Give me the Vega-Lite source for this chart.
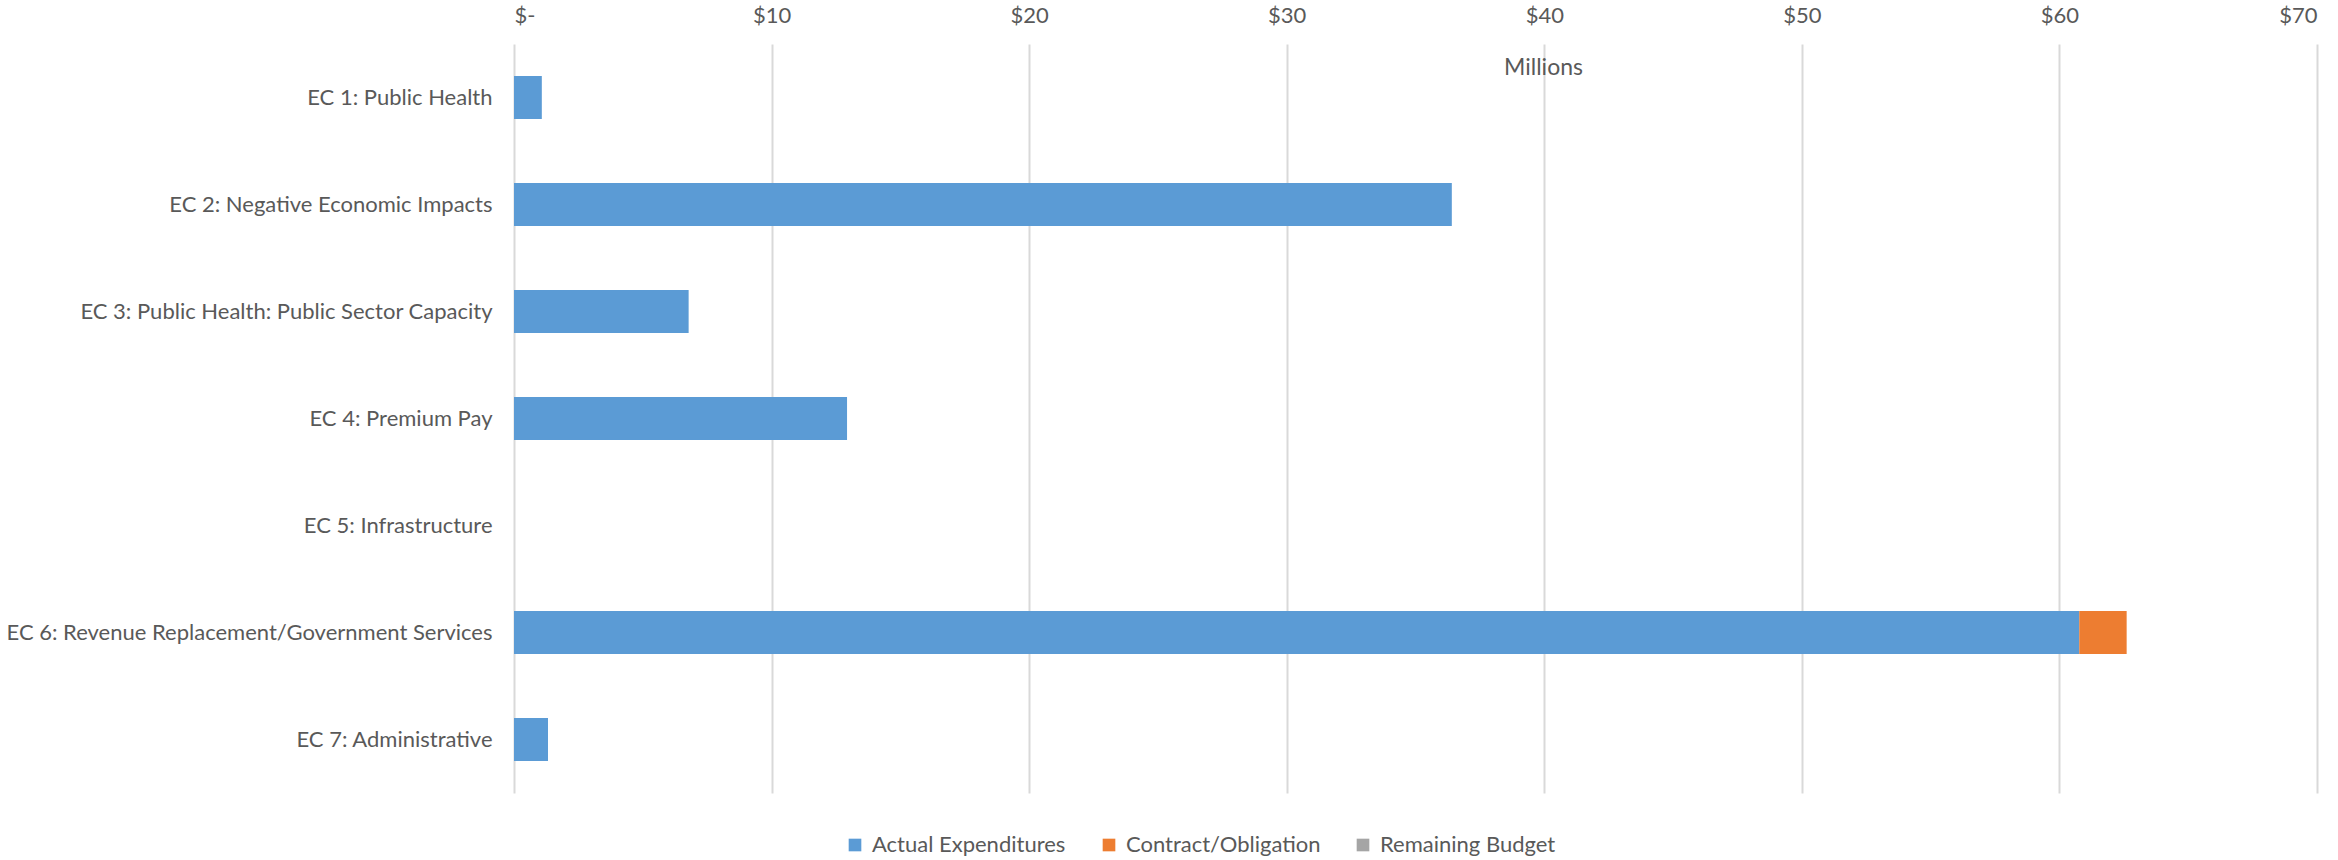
{
  "$schema": "https://vega.github.io/schema/vega-lite/v6.json",
  "width": 1803,
  "height": 749,
  "autosize": {"type": "none"},
  "padding": {"left": 514, "top": 44, "right": 21, "bottom": 67},
  "background": "white",
  "config": {
    "view": {"stroke": null},
    "font": "Lato",
    "text": {"font": "Lato"}
  },
  "data": {
    "values": [
      {"category": "EC 1: Public Health", "type": "Actual Expenditures", "ord": 1, "value": 1.08},
      {"category": "EC 2: Negative Economic Impacts", "type": "Actual Expenditures", "ord": 1, "value": 36.41},
      {"category": "EC 3: Public Health: Public Sector Capacity", "type": "Actual Expenditures", "ord": 1, "value": 6.78},
      {"category": "EC 4: Premium Pay", "type": "Actual Expenditures", "ord": 1, "value": 12.93},
      {"category": "EC 5: Infrastructure", "type": "Actual Expenditures", "ord": 1, "value": 0},
      {"category": "EC 6: Revenue Replacement/Government Services", "type": "Actual Expenditures", "ord": 1, "value": 60.77},
      {"category": "EC 6: Revenue Replacement/Government Services", "type": "Contract/Obligation", "ord": 2, "value": 1.84},
      {"category": "EC 7: Administrative", "type": "Actual Expenditures", "ord": 1, "value": 1.32}
    ]
  },
  "mark": {"type": "bar"},
  "encoding": {
    "y": {
      "field": "category",
      "type": "nominal",
      "sort": null,
      "scale": {
        "domain": [
          "EC 1: Public Health",
          "EC 2: Negative Economic Impacts",
          "EC 3: Public Health: Public Sector Capacity",
          "EC 4: Premium Pay",
          "EC 5: Infrastructure",
          "EC 6: Revenue Replacement/Government Services",
          "EC 7: Administrative"
        ],
        "paddingInner": 0.6,
        "paddingOuter": 0.3
      },
      "axis": {
        "title": null,
        "domain": false,
        "ticks": false,
        "labelPadding": 22,
        "labelFontSize": 22,
        "labelColor": "#595959",
        "labelFont": "Lato",
        "labelLimit": 600
      }
    },
    "x": {
      "field": "value",
      "type": "quantitative",
      "stack": "zero",
      "scale": {"domain": [0, 70], "nice": false},
      "axis": {
        "orient": "top",
        "values": [0, 10, 20, 30, 40, 50, 60, 70],
        "labelExpr": "datum.value == 0 ? '$-' : '$' + datum.value",
        "domain": false,
        "ticks": false,
        "grid": true,
        "gridColor": "#D9D9D9",
        "gridWidth": 2,
        "labelPadding": 17,
        "labelFontSize": 22,
        "labelColor": "#595959",
        "labelFont": "Lato",
        "title": "Millions",
        "titleFont": "Lato",
        "titleFontSize": 23,
        "titleFontWeight": "normal",
        "titleColor": "#595959",
        "titleX": 1029,
        "titleY": 23,
        "titleBaseline": "middle",
        "titleAnchor": null,
        "titleAlign": "center"
      }
    },
    "color": {
      "field": "type",
      "type": "nominal",
      "scale": {
        "domain": ["Actual Expenditures", "Contract/Obligation", "Remaining Budget"],
        "range": ["#5B9BD5", "#ED7D31", "#A5A5A5"]
      },
      "legend": {
        "title": null,
        "orient": "none",
        "legendX": 330,
        "legendY": 790,
        "direction": "horizontal",
        "columns": 3,
        "gridAlign": "all",
        "columnPadding": 31,
        "symbolType": "square",
        "symbolSize": 160,
        "symbolStrokeWidth": 0,
        "labelFontSize": 22,
        "labelColor": "#595959",
        "labelFont": "Lato",
        "labelOffset": 6,
        "labelLimit": 400
      }
    },
    "order": {"field": "ord", "type": "quantitative"}
  }
}
